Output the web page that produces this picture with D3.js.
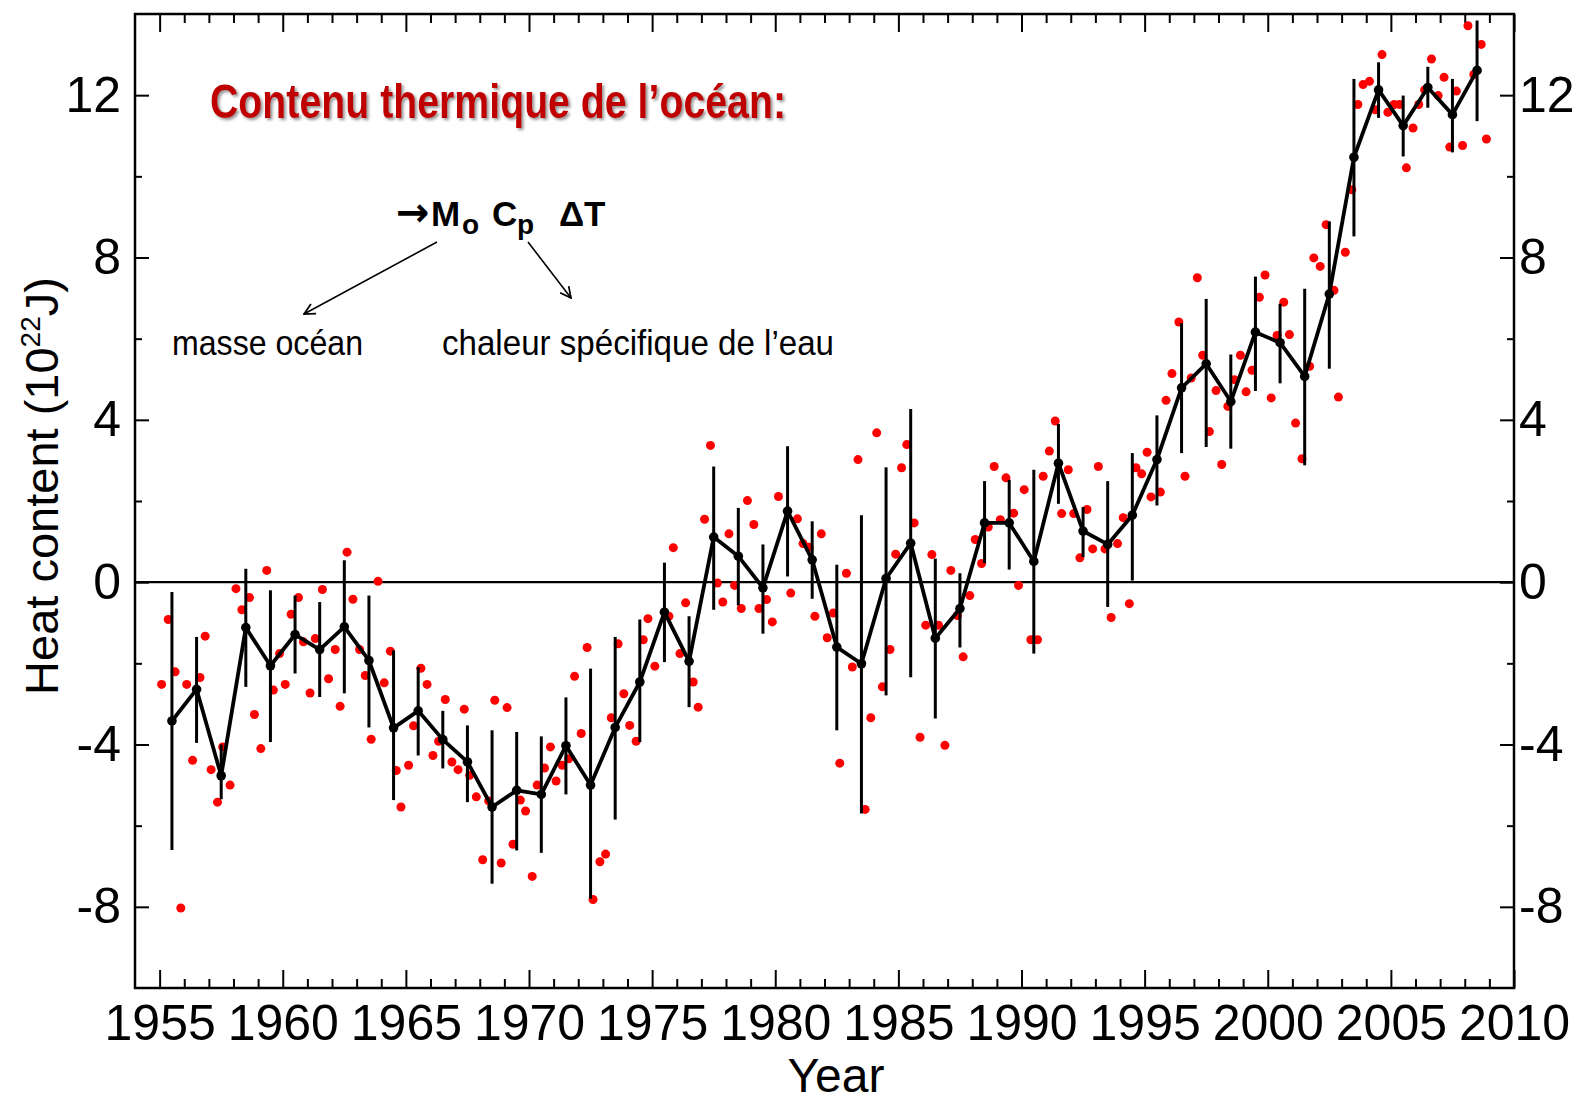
<!DOCTYPE html>
<html>
<head>
<meta charset="utf-8">
<script src="https://cdn.jsdelivr.net/npm/d3@7"></script>
<style>
  body { margin: 0; background: #fff; }
  svg { display: block; }
  .axis text { font-family: "Liberation Sans", Arial, sans-serif; fill: #000; }
  .axis line { stroke: #000; stroke-width: 2; }
  .axis path { display: none; }
</style>
</head>
<body>
<svg id="chart" width="1595" height="1102"></svg>
<script>
// annual means (black) with error bars
var annualYears = [1955.5, 1956.5, 1957.5, 1958.5, 1959.5, 1960.5, 1961.5, 1962.5, 1963.5, 1964.5,
    1965.5, 1966.5, 1967.5, 1968.5, 1969.5, 1970.5, 1971.5, 1972.5, 1973.5, 1974.5,
    1975.5, 1976.5, 1977.5, 1978.5, 1979.5, 1980.5, 1981.5, 1982.5, 1983.5, 1984.5,
    1985.5, 1986.5, 1987.5, 1988.5, 1989.5, 1990.5, 1991.5, 1992.5, 1993.5, 1994.5,
    1995.5, 1996.5, 1997.5, 1998.5, 1999.5, 2000.5, 2001.5, 2002.5, 2003.5, 2004.5,
    2005.5, 2006.5, 2007.5, 2008.5];
var annualMean = [-3.42, -2.64, -4.77, -1.12, -2.06, -1.29, -1.66, -1.10, -1.93, -3.59,
    -3.17, -3.88, -4.43, -5.54, -5.13, -5.23, -4.03, -5.00, -3.58, -2.46,
    -0.74, -1.95, 1.11, 0.64, -0.14, 1.75, 0.55, -1.60, -2.01, 0.09,
    0.96, -1.38, -0.65, 1.46, 1.46, 0.51, 2.93, 1.26, 0.93, 1.65,
    3.02, 4.79, 5.38, 4.45, 6.16, 5.90, 5.07, 7.10, 10.47, 12.13,
    11.25, 12.19, 11.52, 12.61];
var errUpper = [-0.24, -1.35, -4.0, 0.33, -0.2, -0.33, -0.49, 0.54, -0.33, -1.68,
    -2.09, -3.17, -3.53, -3.65, -3.69, -3.80, -2.84, -2.13, -1.35, -0.92,
    0.48, -0.84, 2.85, 1.83, 0.93, 3.35, 1.50, 0.43, 1.65, 2.83,
    4.27, 0.58, 0.22, 2.49, 2.52, 2.77, 3.90, 1.85, 2.49, 3.18,
    4.11, 6.38, 6.98, 5.61, 7.53, 6.86, 7.23, 8.89, 12.40, 12.81,
    11.99, 12.70, 12.40, 13.84];
var errLower = [-6.6, -3.96, -5.35, -2.58, -3.94, -2.25, -2.83, -2.74, -3.58, -5.37,
    -4.27, -4.59, -5.42, -7.43, -6.61, -6.67, -5.23, -7.80, -5.85, -3.94,
    -1.97, -3.08, -0.68, -0.57, -1.27, 0.14, -0.41, -3.65, -5.70, -2.79,
    -2.34, -3.36, -1.61, 0.47, 0.31, -1.76, 1.93, 0.62, -0.61, 0.04,
    1.89, 3.18, 3.33, 3.29, 4.71, 4.90, 2.88, 5.26, 8.52, 11.44,
    10.49, 11.69, 10.59, 11.36];

// seasonal values (red)
var redYears = [1955.08, 1955.35, 1955.63, 1955.86, 1956.10, 1956.34, 1956.64, 1956.85, 1957.09, 1957.35,
    1957.56, 1957.86, 1958.10, 1958.34, 1958.65, 1958.85, 1959.11, 1959.35, 1959.62, 1959.87,
    1960.10, 1960.34, 1960.64, 1960.84, 1961.11, 1961.32, 1961.61, 1961.86, 1962.13, 1962.33,
    1962.61, 1962.85, 1963.12, 1963.35, 1963.59, 1963.87, 1964.12, 1964.37, 1964.61, 1964.80,
    1965.11, 1965.31, 1965.61, 1965.86, 1966.10, 1966.33, 1966.60, 1966.87, 1967.12, 1967.37,
    1967.59, 1967.86, 1968.12, 1968.36, 1968.61, 1968.87, 1969.11, 1969.35, 1969.65, 1969.86,
    1970.13, 1970.33, 1970.63, 1970.87, 1971.10, 1971.35, 1971.61, 1971.85, 1972.12, 1972.36,
    1972.60, 1972.88, 1973.11, 1973.34, 1973.62, 1973.85, 1974.09, 1974.35, 1974.64, 1974.83,
    1975.11, 1975.68, 1975.86, 1976.13, 1976.36, 1976.67, 1976.87, 1977.13, 1977.37, 1977.65,
    1977.87, 1978.12, 1978.35, 1978.62, 1978.87, 1979.13, 1979.34, 1979.65, 1979.88, 1980.13,
    1980.63, 1980.90, 1981.13, 1981.37, 1981.61, 1981.87, 1982.11, 1982.36, 1982.62, 1982.89,
    1983.13, 1983.36, 1983.65, 1983.88, 1984.12, 1984.35, 1984.66, 1984.89, 1985.13, 1985.34,
    1985.64, 1985.88, 1986.11, 1986.36, 1986.63, 1986.89, 1987.13, 1987.40, 1987.63, 1987.90,
    1988.12, 1988.38, 1988.65, 1988.89, 1989.14, 1989.37, 1989.68, 1989.88, 1990.11, 1990.38,
    1990.65, 1990.88, 1991.13, 1991.37, 1991.63, 1991.90, 1992.12, 1992.37, 1992.66, 1992.89,
    1993.12, 1993.39, 1993.64, 1993.90, 1994.13, 1994.38, 1994.65, 1994.88, 1995.10, 1995.26,
    1995.64, 1995.87, 1996.11, 1996.39, 1996.64, 1996.89, 1997.14, 1997.36, 1997.63, 1997.90,
    1998.13, 1998.38, 1998.65, 1998.89, 1999.12, 1999.36, 1999.66, 1999.89, 2000.14, 2000.38,
    2000.65, 2000.88, 2001.13, 2001.39, 2001.70, 2001.87, 2002.13, 2002.37, 2002.69, 2002.87,
    2003.15, 2003.41, 2003.66, 2003.87, 2004.13, 2004.37, 2004.64, 2004.88, 2005.13, 2005.35,
    2005.63, 2005.90, 2006.13, 2006.37, 2006.65, 2006.92, 2007.16, 2007.39, 2007.66, 2007.91,
    2008.13, 2008.37, 2008.67, 2008.88];
var redValues = [-2.52, -0.92, -2.21, -8.03, -2.52, -4.39, -2.35, -1.33, -4.62, -5.42,
    -4.06, -5.00, -0.16, -0.68, -0.38, -3.26, -4.10, 0.29, -2.66, -1.76,
    -2.52, -0.79, -0.38, -1.47, -2.73, -1.39, -0.18, -2.38, -1.66, -3.06,
    0.74, -0.42, -1.66, -2.30, -3.87, 0.02, -2.48, -1.70, -4.64, -5.54,
    -4.51, -3.54, -2.12, -2.52, -4.27, -3.92, -2.89, -4.43, -4.62, -3.13,
    -4.76, -5.29, -6.84, -5.39, -2.91, -6.92, -3.09, -6.46, -5.37, -5.64,
    -7.25, -5.00, -4.58, -4.06, -4.90, -4.51, -4.35, -2.32, -3.73, -1.61,
    -7.82, -6.89, -6.70, -3.34, -1.52, -2.75, -3.53, -3.92, -1.42, -0.90,
    -2.07, -0.84, 0.85, -1.76, -0.51, -2.46, -3.08, 1.55, 3.37, -0.02,
    -0.49, 1.19, -0.08, -0.65, 2.01, 1.42, -0.65, -0.43, -0.98, 2.11,
    -0.27, 1.56, 0.95, 0.86, -0.84, 1.19, -1.37, -0.76, -4.46, 0.22,
    -2.09, 3.02, -5.60, -3.34, 3.68, -2.58, -1.66, 0.69, 2.82, 3.39,
    1.46, -3.82, -1.06, 0.68, -1.06, -4.02, 0.29, -0.82, -1.84, -0.33,
    1.05, 0.46, 1.36, 2.85, 1.54, 2.57, 1.70, -0.08, 2.28, -1.42,
    -1.42, 2.61, 3.23, 3.97, 1.69, 2.77, 1.69, 0.60, 1.79, 0.82,
    2.85, 0.82, -0.87, 0.95, 1.59, -0.53, 2.82, 2.67, 3.20, 2.10,
    2.22, 4.48, 5.14, 6.41, 2.61, 5.03, 7.50, 5.59, 3.71, 4.72,
    2.90, 4.33, 4.99, 5.59, 4.69, 5.22, 7.02, 7.57, 4.54, 6.08,
    6.90, 6.10, 3.92, 3.04, 5.32, 7.99, 7.78, 8.81, 7.19, 4.56,
    8.13, 9.67, 11.77, 12.26, 12.34, 11.64, 13.00, 11.58, 11.77, 11.77,
    10.21, 11.19, 11.77, 12.13, 12.89, 11.99, 12.44, 10.72, 12.10, 10.76,
    13.71, 12.51, 13.25, 10.92];

// tick labels
var yearTicks = [1955, 1960, 1965, 1970, 1975, 1980, 1985, 1990, 1995, 2000, 2005, 2010];
var yearMinor = [1956, 1957, 1958, 1959, 1961, 1962, 1963, 1964, 1966, 1967, 1968, 1969,
    1971, 1972, 1973, 1974, 1976, 1977, 1978, 1979, 1981, 1982, 1983, 1984, 1986, 1987, 1988, 1989,
    1991, 1992, 1993, 1994, 1996, 1997, 1998, 1999, 2001, 2002, 2003, 2004, 2006, 2007, 2008, 2009];
var heatTicks = [-8, -4, 0, 4, 8, 12];
var heatMinor = [-6, -2, 2, 6, 10];

var svg = d3.select('#chart');

var plotLeft = 135, plotRight = 1514, plotTop = 14, plotBottom = 988;

var x = d3.scaleLinear().domain([1954, 2010]).range([plotLeft, plotRight]);
var y = d3.scaleLinear().domain([-10, 14]).range([plotBottom, plotTop]);

var defs = svg.append('defs');
defs.append('marker').attr('id', 'arrow')
    .attr('viewBox', '0 0 12 12').attr('refX', 11).attr('refY', 6)
    .attr('markerWidth', 13).attr('markerHeight', 13).attr('markerUnits', 'userSpaceOnUse')
    .attr('orient', 'auto')
    .append('path').attr('d', 'M1,1 L11,6 L1,11')
    .attr('fill', 'none').attr('stroke', '#000').attr('stroke-width', 1.6);
defs.append('filter').attr('id', 'shadow')
    .append('feDropShadow').attr('dx', 2).attr('dy', 2).attr('stdDeviation', 1.5)
    .attr('flood-color', '#777').attr('flood-opacity', 0.8);

// axes, ticks pointing inside the frame
svg.append('g').attr('class', 'axis').attr('transform', 'translate(0,' + plotBottom + ')')
    .call(d3.axisBottom(x).tickValues(yearTicks).tickSize(-18).tickPadding(16).tickFormat(d => String(d)))
    .selectAll('text').style('font-size', '50px');
svg.append('g').attr('class', 'axis').attr('transform', 'translate(0,' + plotBottom + ')')
    .call(d3.axisBottom(x).tickValues(yearMinor).tickSize(-9).tickFormat(''));
svg.append('g').attr('class', 'axis').attr('transform', 'translate(0,' + plotTop + ')')
    .call(d3.axisTop(x).tickValues(yearTicks).tickSize(-18).tickFormat(''));
svg.append('g').attr('class', 'axis').attr('transform', 'translate(0,' + plotTop + ')')
    .call(d3.axisTop(x).tickValues(yearMinor).tickSize(-9).tickFormat(''));

svg.append('g').attr('class', 'axis').attr('transform', 'translate(' + plotLeft + ',0)')
    .call(d3.axisLeft(y).tickValues(heatTicks).tickSize(-14).tickPadding(14).tickFormat(d => String(d)))
    .selectAll('text').style('font-size', '50px');
svg.append('g').attr('class', 'axis').attr('transform', 'translate(' + plotLeft + ',0)')
    .call(d3.axisLeft(y).tickValues(heatMinor).tickSize(-7).tickFormat(''));
svg.append('g').attr('class', 'axis').attr('transform', 'translate(' + plotRight + ',0)')
    .call(d3.axisRight(y).tickValues(heatTicks).tickSize(-14).tickPadding(5).tickFormat(d => String(d)))
    .selectAll('text').style('font-size', '50px');
svg.append('g').attr('class', 'axis').attr('transform', 'translate(' + plotRight + ',0)')
    .call(d3.axisRight(y).tickValues(heatMinor).tickSize(-7).tickFormat(''));

// frame and zero line
svg.append('rect').attr('x', plotLeft).attr('y', plotTop)
    .attr('width', plotRight - plotLeft).attr('height', plotBottom - plotTop)
    .attr('fill', 'none').attr('stroke', '#000').attr('stroke-width', 2.5);
svg.append('line').attr('x1', plotLeft).attr('x2', plotRight).attr('y1', y(0)).attr('y2', y(0))
    .attr('stroke', '#000').attr('stroke-width', 2.2);

// red seasonal dots
for (let i = 0; i < redYears.length; i++) {
    svg.append('circle').attr('cx', x(redYears[i])).attr('cy', y(redValues[i]))
        .attr('r', 4.5).attr('fill', '#ff0000');
}

// error bars
for (let i = 0; i < annualYears.length; i++) {
    svg.append('line').attr('x1', x(annualYears[i])).attr('x2', x(annualYears[i]))
        .attr('y1', y(errUpper[i])).attr('y2', y(errLower[i]))
        .attr('stroke', '#000').attr('stroke-width', 3);
}

// annual mean line + points
var line = d3.line().x((d, i) => x(annualYears[i])).y(d => y(d));
svg.append('path').datum(annualMean).attr('d', line)
    .attr('fill', 'none').attr('stroke', '#000').attr('stroke-width', 3.8).attr('stroke-linejoin', 'round');
svg.selectAll('.mean').data(annualMean).enter().append('circle').attr('class', 'mean')
    .attr('cx', (d, i) => x(annualYears[i])).attr('cy', d => y(d)).attr('r', 4.8).attr('fill', '#000');

// axis titles
svg.append('text').attr('x', 836).attr('y', 1092).attr('text-anchor', 'middle')
    .style('font-family', '"Liberation Sans", Arial, sans-serif').style('font-size', '48px')
    .text('Year');

var ytitle = svg.append('text').attr('transform', 'translate(58,486) rotate(-90)')
    .attr('text-anchor', 'middle')
    .style('font-family', '"Liberation Sans", Arial, sans-serif').style('font-size', '47px');
ytitle.append('tspan').text('Heat content (10');
ytitle.append('tspan').attr('dy', -18).style('font-size', '28px').text('22');
ytitle.append('tspan').attr('dy', 18).text('J)');

// annotations
svg.append('text').attr('x', 210).attr('y', 118)
    .attr('textLength', 576).attr('lengthAdjust', 'spacingAndGlyphs')
    .attr('filter', 'url(#shadow)')
    .style('font-family', '"Liberation Sans Narrow", "Arial Narrow", "Liberation Sans", sans-serif')
    .style('font-size', '48px').style('font-weight', 'bold').style('fill', '#c00000')
    .text('Contenu thermique de l\u2019océan:');

var formula = svg.append('text').attr('y', 226)
    .style('font-family', '"Liberation Sans", Arial, sans-serif')
    .style('font-size', '35px').style('font-weight', 'bold');
formula.append('tspan').attr('x', 396).style('font-family', '"DejaVu Sans", sans-serif').style('font-size', '40px').text('\u2192');
formula.append('tspan').attr('x', 431).text('M');
formula.append('tspan').attr('x', 462).attr('dy', 8).style('font-size', '28px').text('o');
formula.append('tspan').attr('x', 492).attr('dy', -8).text('C');
formula.append('tspan').attr('x', 517).attr('dy', 8).style('font-size', '28px').text('p');
formula.append('tspan').attr('x', 559).attr('dy', -8).text('\u0394');
formula.append('tspan').attr('x', 584).text('T');

svg.append('line').attr('x1', 437).attr('y1', 242).attr('x2', 304).attr('y2', 314)
    .attr('stroke', '#000').attr('stroke-width', 1.6).attr('marker-end', 'url(#arrow)');
svg.append('line').attr('x1', 528).attr('y1', 242).attr('x2', 571).attr('y2', 298)
    .attr('stroke', '#000').attr('stroke-width', 1.6).attr('marker-end', 'url(#arrow)');

svg.append('text').attr('x', 172).attr('y', 355)
    .attr('textLength', 191).attr('lengthAdjust', 'spacingAndGlyphs')
    .style('font-family', '"Liberation Sans Narrow", "Arial Narrow", "Liberation Sans", sans-serif')
    .style('font-size', '35px')
    .text('masse océan');
svg.append('text').attr('x', 442).attr('y', 355)
    .attr('textLength', 392).attr('lengthAdjust', 'spacingAndGlyphs')
    .style('font-family', '"Liberation Sans Narrow", "Arial Narrow", "Liberation Sans", sans-serif')
    .style('font-size', '35px')
    .text('chaleur spécifique de l\u2019eau');
</script>
</body>
</html>
